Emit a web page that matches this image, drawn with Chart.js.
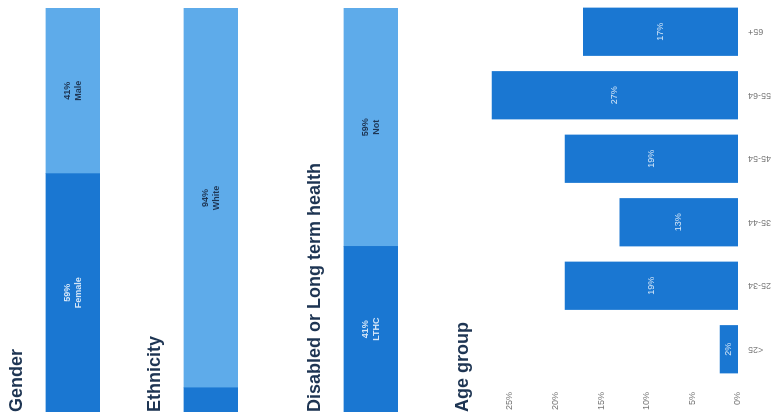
<!DOCTYPE html>
<html>
<head>
<meta charset="utf-8">
<script src="https://cdn.jsdelivr.net/npm/chart.js@4.4.1/dist/chart.umd.min.js"></script>
<style>
  body { margin: 0; background: #fff; overflow: hidden; width: 775px; height: 420px; }
  #page {
    position: absolute; left: 0; top: 0; width: 420px; height: 775px;
    transform-origin: 0 0; transform: translateY(420px) rotate(-90deg);
  }
  #page canvas { position: absolute; left: 0; }
</style>
</head>
<body>
<div id="page">
  <canvas id="gender" width="420" height="100" style="top:0"></canvas>
  <canvas id="ethnicity" width="420" height="100" style="top:138px"></canvas>
  <canvas id="disabled" width="420" height="100" style="top:298px"></canvas>
  <canvas id="age" width="420" height="335" style="top:440px"></canvas>
</div>
<script>
// Profile data
const genderLabels = ['Female', 'Male'];
const genderValues = [59, 41];

const ethnicityLabels = ['Other', 'White'];
const ethnicityValues = [6, 94];

const disabledLabels = ['LTHC', 'Not'];
const disabledValues = [41, 59];

const ageGroups = ['<25', '25-34', '35-44', '45-54', '55-64', '65+'];
const ageValues = [2, 19, 13, 19, 27, 17];
const ageTicks = [0, 5, 10, 15, 20, 25];

const DARK = '#1a77d2';
const LIGHT = '#5eabea';
const NAVY = '#1e3553';

Chart.defaults.font.family = '"Liberation Sans", Arial, sans-serif';

// labels written in the middle of each stacked segment
const segmentLabels = {
  id: 'segmentLabels',
  afterDatasetsDraw(chart) {
    const ctx = chart.ctx;
    chart.data.datasets.forEach((ds, i) => {
      const bar = chart.getDatasetMeta(i).data[0];
      const w = Math.abs(bar.x - bar.base);
      if (w < 40) return;
      const cx = (bar.x + bar.base) / 2;
      const cy = bar.y;
      ctx.save();
      ctx.fillStyle = i === 0 ? '#d4e6f8' : NAVY;
      ctx.font = 'bold 9px "Liberation Sans", Arial, sans-serif';
      ctx.textAlign = 'center';
      ctx.textBaseline = 'middle';
      ctx.fillText(ds.data[0] + '%', cx, cy - 5.5);
      ctx.fillText(ds.label, cx, cy + 5.5);
      ctx.restore();
    });
  }
};

function makeStackChart(id, title, names, values) {
  new Chart(document.getElementById(id), {
    type: 'bar',
    data: {
      labels: [title],
      datasets: values.map((v, i) => ({
        label: names[i],
        data: [v],
        backgroundColor: i === 0 ? DARK : LIGHT,
        borderWidth: 0,
        barPercentage: 1,
        categoryPercentage: 1
      }))
    },
    options: {
      indexAxis: 'y',
      responsive: false,
      animation: false,
      layout: { padding: { left: 8, right: 8 } },
      scales: {
        x: { stacked: true, display: false, min: 0, max: 100 },
        y: { stacked: true, display: false }
      },
      plugins: {
        legend: { display: false },
        tooltip: { enabled: false },
        title: {
          display: true,
          text: title,
          align: 'start',
          color: NAVY,
          font: { size: 18, weight: 'bold' },
          padding: { top: 6, bottom: 18 }
        }
      }
    },
    plugins: [segmentLabels]
  });
}

makeStackChart('gender', 'Gender', genderLabels, genderValues);
makeStackChart('ethnicity', 'Ethnicity', ethnicityLabels, ethnicityValues);
makeStackChart('disabled', 'Disabled or Long term health', disabledLabels, disabledValues);

// value inside each age column
const columnLabels = {
  id: 'columnLabels',
  afterDatasetsDraw(chart) {
    const ctx = chart.ctx;
    const ds = chart.data.datasets[0];
    chart.getDatasetMeta(0).data.forEach((bar, i) => {
      ctx.save();
      ctx.fillStyle = '#d4e6f8';
      ctx.font = '9px "Liberation Sans", Arial, sans-serif';
      ctx.textAlign = 'center';
      ctx.textBaseline = 'middle';
      ctx.fillText(ds.data[i] + '%', bar.x, (bar.y + bar.base) / 2);
      ctx.restore();
    });
  }
};

new Chart(document.getElementById('age'), {
  type: 'bar',
  data: {
    labels: ageGroups,
    datasets: [{
      label: 'Age group',
      data: ageValues,
      backgroundColor: DARK,
      borderWidth: 0,
      barPercentage: 0.76,
      categoryPercentage: 1
    }]
  },
  options: {
    responsive: false,
    animation: false,
    layout: { padding: { left: 8, right: 0, bottom: 0 } },
    scales: {
      x: {
        grid: { display: false, drawTicks: false },
        border: { display: false },
        afterFit: (s) => { s.height = 37; },
        ticks: {
          autoSkip: false,
          minRotation: 90,
          maxRotation: 90,
          padding: 10,
          color: '#777',
          font: { size: 9 }
        }
      },
      y: {
        min: 0,
        max: 28,
        grid: { display: false, drawTicks: false },
        border: { display: false },
        afterFit: (s) => { s.width = 31; },
        ticks: {
          stepSize: 5,
          padding: 11,
          color: '#777',
          font: { size: 9 },
          callback: (v) => ageTicks.includes(v) ? v + '%' : ''
        }
      }
    },
    plugins: {
      legend: { display: false },
      tooltip: { enabled: false },
      title: {
        display: true,
        text: 'Age group',
        align: 'start',
        color: NAVY,
        font: { size: 18, weight: 'bold' },
        padding: { top: 12, bottom: 9 }
      }
    }
  },
  plugins: [columnLabels]
});
</script>
</body>
</html>
